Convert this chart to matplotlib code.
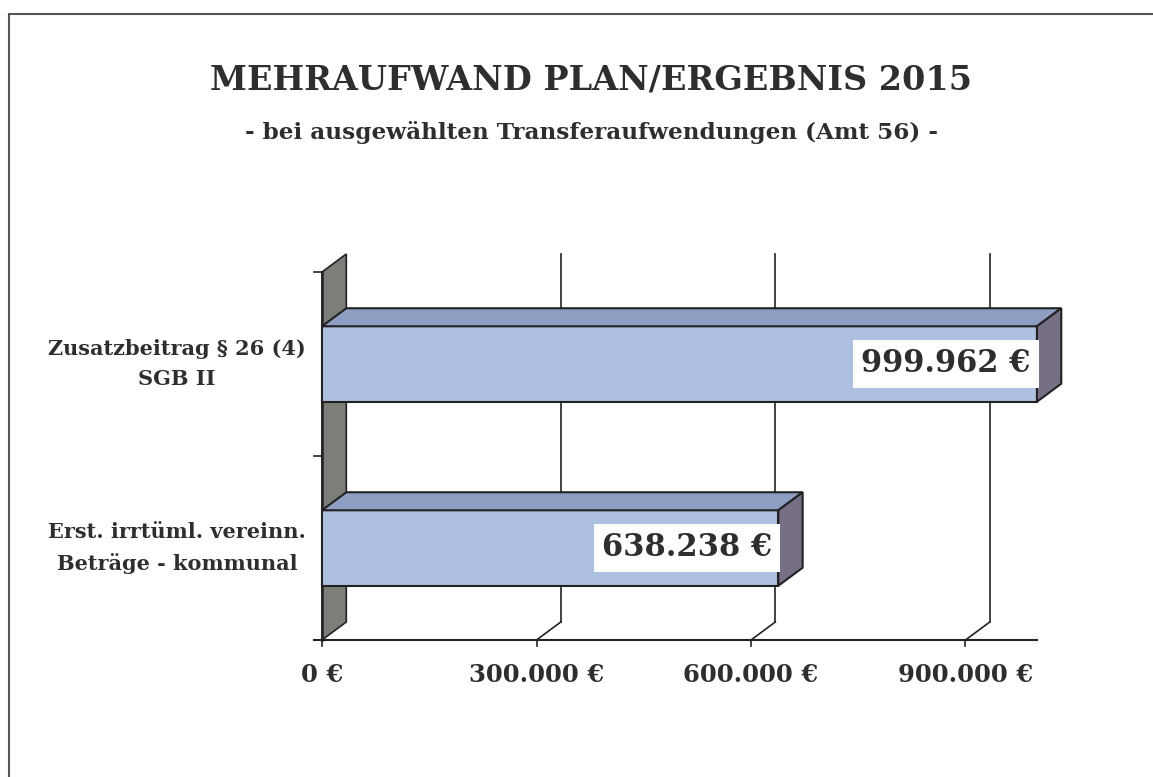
import matplotlib
matplotlib.use('Agg')
import matplotlib.pyplot as plt
from matplotlib import transforms
from matplotlib.lines import Line2D

# chart data
categories = ['Erst. irrtüml. vereinn.\nBeträge - kommunal', 'Zusatzbeitrag § 26 (4)\nSGB II']
values = [638238, 999962]
value_labels = ['638.238 €', '999.962 €']
tick_values = [0, 300000, 600000, 900000]
tick_labels = ['0 €', '300.000 €', '600.000 €', '900.000 €']
title = 'MEHRAUFWAND PLAN/ERGEBNIS 2015'
subtitle = '- bei ausgewählten Transferaufwendungen (Amt 56) -'

FONT = 'DejaVu Serif'
TXT = '#2e2e2e'
EDGE = '#222222'
FRONT = '#adc0e2'
TOP = '#8e9dc2'
SIDE = '#776f86'
WALL = '#7b7e79'

# depth offset of the fake 3d (data units)
DX = 34000
DY = 0.098
BAR_H = 0.41

fig = plt.figure(figsize=(11.53, 7.77), dpi=100)
ax = fig.add_axes([322 / 1153, 1 - 640 / 777, 715 / 1153, 368 / 777])
ax.set_xlim(0, 1000000)
ax.set_ylim(0, 2)
ax.axis('off')

# frame (only top and left edges inside the page)
fig.add_artist(Line2D([9 / 1153, 1.0], [1 - 14 / 777] * 2, color='#555555', lw=1.5))
fig.add_artist(Line2D([9 / 1153] * 2, [0.0, 1 - 14 / 777], color='#555555', lw=1.5))

# back wall gridlines + floor diagonals
for v in tick_values[1:]:
    ax.plot([v + DX, v + DX], [DY, 2 + DY], color=EDGE, lw=1.2, clip_on=False, zorder=1)
    ax.plot([v, v + DX], [0, DY], color=EDGE, lw=1.2, clip_on=False, zorder=1)

# left side wall
ax.fill([0, DX, DX, 0], [0, DY, 2 + DY, 2], color=WALL, ec=EDGE, lw=1.2, clip_on=False, zorder=2)
ax.plot([0, 0], [0, 2], color=EDGE, lw=1.8, clip_on=False, zorder=3)

# floor line and ticks
ax.plot([-11000, 1000000], [0, 0], color=EDGE, lw=1.5, clip_on=False, zorder=3)
for v in tick_values:
    ax.plot([v, v], [0, -0.03], color=EDGE, lw=1.2, clip_on=False, zorder=3)
for yt in [0, 1, 2]:
    ax.plot([-11000, 0], [yt, yt], color=EDGE, lw=1.2, clip_on=False, zorder=3)

# bars
for i, v in enumerate(values):
    c = i + 0.5
    lo, hi = c - BAR_H / 2, c + BAR_H / 2
    ax.fill([0, v, v, 0], [lo, lo, hi, hi], color=FRONT, ec=EDGE, lw=1.5, clip_on=False, zorder=4)
    ax.fill([0, DX, v + DX, v], [hi, hi + DY, hi + DY, hi], color=TOP, ec=EDGE, lw=1.5,
            clip_on=False, zorder=4)
    ax.fill([v, v + DX, v + DX, v], [lo, lo + DY, hi + DY, hi], color=SIDE, ec=EDGE, lw=1.5,
            clip_on=False, zorder=4)
    ax.text(v - 9000, c, value_labels[i], ha='right', va='center', fontsize=22,
            fontweight='bold', family=FONT, color=TXT, zorder=6,
            bbox=dict(facecolor='white', edgecolor='none', pad=6))

# category labels
trans = transforms.blended_transform_factory(fig.transFigure, ax.transData)
for i, lab in enumerate(categories):
    ax.text(177 / 1153, i + 0.5, lab, transform=trans, ha='center', va='center',
            fontsize=15, fontweight='bold', family=FONT, color=TXT, linespacing=1.65)

# x tick labels
for v, lab in zip(tick_values, tick_labels):
    ax.text(v, -0.19, lab, ha='center', va='center', fontsize=17.5, fontweight='bold',
            family=FONT, color=TXT, clip_on=False)

fig.text(0.513, 1 - 80 / 777, title, ha='center', va='center', fontsize=24,
         fontweight='bold', family=FONT, color=TXT)
fig.text(0.513, 1 - 133 / 777, subtitle, ha='center', va='center', fontsize=16.7,
         fontweight='bold', family=FONT, color=TXT)

fig.savefig('out.png', dpi=100)
